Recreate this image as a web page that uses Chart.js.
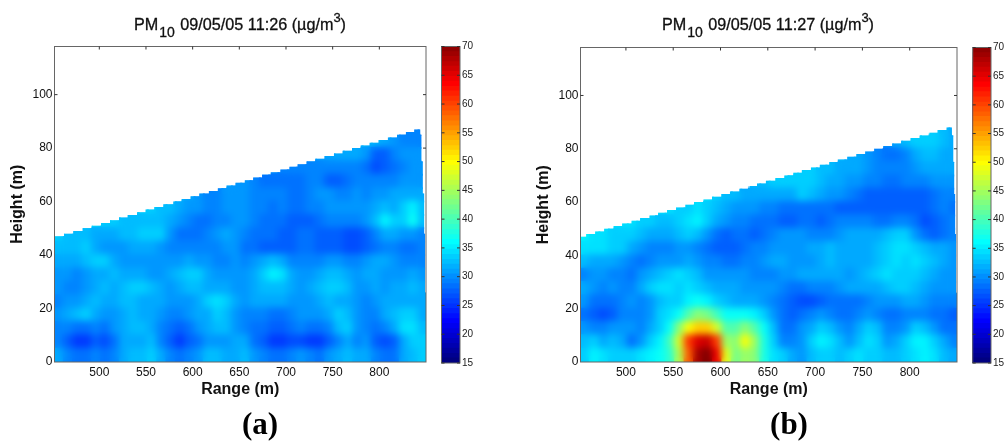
<!DOCTYPE html>
<html>
<head>
<meta charset="utf-8">
<title>PM10</title>
<script src="https://cdn.jsdelivr.net/npm/chart.js@4/dist/chart.umd.min.js"></script>
<style>
  body { margin: 0; background: #fff; }
  #wrap { position: relative; width: 1004px; height: 441px; overflow: hidden; font-family: "Liberation Sans", Arial, sans-serif; }
  canvas { position: absolute; top: 0; }
  .head { position: absolute; top: 15px; font-size: 16.2px; color: #111; white-space: nowrap; transform: translateX(-50%); -webkit-text-stroke: 0.3px #111; }
  .head .sub { position: relative; top: 7px; font-size: 14px; margin: 0 1px 0 1px; }
  .head .sup { position: relative; top: -8px; font-size: 13px; }
  .cap { position: absolute; top: 406px; font: bold 31px "Liberation Serif", serif; color: #000; transform: translateX(-50%); }
</style>
</head>
<body>
<div id="wrap">
  <canvas id="chartA" width="430" height="441" style="left:0"></canvas>
  <canvas id="cbarA" width="500" height="441" style="left:0"></canvas>
  <canvas id="chartB" width="435" height="441" style="left:526px"></canvas>
  <canvas id="cbarB" width="1040" height="441" style="left:0"></canvas>
  <div class="head" style="left:240px">PM<span class="sub">10</span> 09/05/05 11:26 (µg/m<span class="sup">3</span>)</div>
  <div class="head" style="left:768px">PM<span class="sub">10</span> 09/05/05 11:27 (µg/m<span class="sup">3</span>)</div>
  <div class="cap" style="left:260px">(a)</div>
  <div class="cap" style="left:789px">(b)</div>
</div>
<script>
// axes
var rangeTicks = [500, 550, 600, 650, 700, 750, 800];
var heightTicks = [0, 20, 40, 60, 80, 100];
var cbarTicks = [15, 20, 25, 30, 35, 40, 45, 50, 55, 60, 65, 70];

// heat grid: column centres and row edges (m)
var rangeCols = [457, 467, 477, 487, 497, 507, 517, 527, 537, 547, 557, 567, 577, 587, 597, 607, 617, 627, 637, 647,
                 657, 667, 677, 687, 697, 707, 717, 727, 737, 747, 757, 767, 777, 787, 797, 807, 817, 827, 837, 847];
var heightEdges = [0, 5, 10, 15, 20, 25, 30, 35, 40, 45, 50, 55, 60, 65, 70, 75, 80, 85, 90];

// colorbar band tops
var cbarLevels = [15.9, 16.7, 17.6, 18.4, 19.3, 20.2, 21.0, 21.9, 22.7, 23.6, 24.5, 25.3, 26.2, 27.0, 27.9, 28.8,
                  29.6, 30.5, 31.3, 32.2, 33.0, 33.9, 34.8, 35.6, 36.5, 37.3, 38.2, 39.1, 39.9, 40.8, 41.6, 42.5,
                  43.4, 44.2, 45.1, 45.9, 46.8, 47.7, 48.5, 49.4, 50.2, 51.1, 52.0, 52.8, 53.7, 54.5, 55.4, 56.2,
                  57.1, 58.0, 58.8, 59.7, 60.5, 61.4, 62.3, 63.1, 64.0, 64.8, 65.7, 66.6, 67.4, 68.3, 69.1, 70];

// top edge of the scan
var skyEdgesA = [452, 462.3, 472.3, 482.3, 491.9, 501.9, 511.5, 521.1, 530.4, 540.4, 549.6, 558.9, 568.6, 579.3, 588.2, 597.8, 607.1, 617.4, 627, 636.3, 645.9,
                 655.9, 664.8, 674.4, 683.7, 694, 703.7, 712.6, 722.2, 731.5, 741.4, 751.4, 760.7, 770.7, 780, 789.6, 799.2, 809.2, 818.9, 828.5, 837.4, 843.8,
                 845, 846.5, 848, 849, 850];
var skyTopsA = [47, 48, 49, 50, 51, 52, 53, 54, 55, 56, 57, 58, 59, 60, 61, 62, 63, 64, 65, 66,
                67, 68, 69, 70, 71, 72, 73, 74, 75, 76, 77, 78, 79, 80, 81, 82, 83, 84, 85, 86, 87,
                85, 75, 63, 48, 26];
var skyEdgesB = [452, 458, 467.5, 477, 487, 496, 506, 515, 525, 534, 543.5, 553, 563, 572, 582, 591, 601, 610, 620, 629, 638.6,
                 648, 658, 667.5, 677, 686, 695.6, 705, 715, 724, 734, 743.6, 753, 762.6, 772, 781.6, 791, 801, 810.5, 820, 829.5, 839, 844.6,
                 846, 847, 848, 849, 850];
var skyTopsB = [47, 48, 49, 50, 51, 52, 53, 54, 55, 56, 57, 58, 59, 60, 61, 62, 63, 64, 65, 66, 67,
                68, 69, 70, 71, 72, 73, 74, 75, 76, 77, 78, 79, 80, 81, 82, 83, 84, 85, 86, 87, 88,
                85, 75, 63, 48, 26];

var n = null;

// PM10 at 11:26, bottom row first
var pm10A = [
  [31,29,28,28,29,28,29,31,32,32, 33,31,29,28,29,30,32,32,31,31, 32,30,29,28,28,29,30,29,28,30, 31,32,31,31,29,28,28,31,32,33],
  [29,27,25,25,27,26,28,31,31,31, 32,29,27,25,27,28,30,30,30,31, 31,28,27,25,25,26,26,25,25,27, 29,31,29,30,27,26,27,31,33,33],
  [29,29,28,28,29,28,30,31,32,32, 31,29,28,27,28,30,31,32,32,30, 29,28,28,27,27,28,29,28,28,29, 32,33,30,29,28,29,31,34,34,32],
  [30,31,32,33,31,30,30,31,32,31, 31,30,29,29,30,31,31,33,32,30, 29,29,29,28,28,29,30,30,30,31, 33,32,30,29,29,31,32,33,33,31],
  [29,30,30,31,32,31,31,32,32,31, 31,31,30,30,30,31,33,34,33,31, 30,31,31,31,31,30,30,30,31,32, 31,31,30,29,30,31,31,31,31,31],
  [30,29,29,30,31,32,31,32,33,33, 32,31,30,31,32,32,31,31,31,30, 30,31,32,32,32,31,30,31,32,33, 33,32,30,30,31,30,31,31,32,31],
  [30,30,29,30,31,31,32,31,31,31, 30,30,31,32,33,33,31,30,30,30, 30,31,33,35,34,31,30,30,31,32, 32,31,30,31,31,30,30,30,31,30],
  [31,31,31,32,33,33,31,30,30,30, 30,30,30,30,31,30,30,29,29,30, 29,30,31,32,31,29,29,29,29,30, 30,29,29,30,31,31,30,29,29,29],
  [32,32,32,33,31,30,30,30,31,31, 31,30,29,29,29,29,29,29,30,30, 28,28,27,27,27,27,28,28,27,27, 27,26,26,27,28,29,29,28,28,29],
  [33,32,32,32,31,31,31,32,32,33, 33,33,30,28,28,28,29,30,31,30, 29,28,28,28,27,27,28,28,27,27, 27,26,26,27,29,31,31,30,30,29],
  [n,n,n,34,34,33,33,32,32,32, 32,32,31,30,29,28,28,29,29,30, 30,29,28,28,28,27,27,27,28,29, 29,29,29,30,32,35,33,33,36,32],
  [n,n,n,n,n,n,n,n,33,33, 33,32,32,31,30,30,29,29,30,30, 30,29,29,28,29,28,28,29,29,30, 30,30,30,30,31,32,31,33,35,32],
  [n,n,n,n,n,n,n,n,n,n, n,n,n,32,31,30,29,29,30,30, 30,29,29,29,29,28,28,29,30,30, 29,29,30,29,30,30,31,31,31,31],
  [n,n,n,n,n,n,n,n,n,n, n,n,n,n,n,n,n,n,31,30, 30,29,28,28,28,28,28,29,29,27, 27,28,29,29,29,29,29,30,30,30],
  [n,n,n,n,n,n,n,n,n,n, n,n,n,n,n,n,n,n,n,n, n,n,31,30,29,29,29,29,29,29, 29,29,29,28,26,27,28,29,30,30],
  [n,n,n,n,n,n,n,n,n,n, n,n,n,n,n,n,n,n,n,n, n,n,n,n,n,n,n,31,31,31, 31,31,31,30,27,27,29,30,30,30],
  [n,n,n,n,n,n,n,n,n,n, n,n,n,n,n,n,n,n,n,n, n,n,n,n,n,n,n,n,n,n, n,n,31,32,32,31,30,29,29,29],
  [n,n,n,n,n,n,n,n,n,n, n,n,n,n,n,n,n,n,n,n, n,n,n,n,n,n,n,n,n,n, n,n,n,n,n,n,n,29,29,29]
];

// PM10 at 11:27, bottom row first
var pm10B = [
  [33,35,34,33,33,33,34,35,36,38, 45,58,68,70,64,48,42,44,43,37, 34,33,31,30,32,33,33,32,33,34, 33,33,32,32,33,34,35,34,32,31],
  [32,33,31,32,31,28,30,33,35,39, 47,60,65,66,60,44,43,49,44,37, 33,29,29,30,33,35,34,32,30,32, 34,33,30,31,33,35,35,33,31,29],
  [30,29,29,30,30,30,29,31,33,36, 43,49,52,52,47,40,40,43,40,36, 32,28,28,30,31,33,32,30,29,31, 33,32,29,29,30,33,32,30,28,28],
  [28,27,26,27,29,29,29,30,33,34, 36,40,43,42,39,36,36,36,35,33, 30,28,27,28,29,30,29,28,28,29, 30,29,28,28,29,29,29,28,28,27],
  [30,28,28,28,29,30,29,30,32,33, 33,35,36,35,33,32,31,31,31,30, 29,28,27,26,26,27,28,28,28,28, 29,30,30,30,31,31,30,29,29,29],
  [31,30,29,30,29,29,31,33,34,34, 33,34,33,32,31,31,31,30,30,30, 30,29,28,28,29,29,29,30,31,31, 31,31,32,33,33,32,31,30,30,30],
  [29,30,30,29,29,28,30,31,32,33, 34,33,32,30,30,30,30,30,29,29, 29,30,30,31,31,31,31,31,30,31, 32,33,34,33,33,33,32,31,30,30],
  [32,31,31,31,30,29,28,29,30,30, 30,31,30,29,29,28,28,29,29,30, 31,31,30,30,30,31,32,31,31,31, 31,32,33,34,33,34,33,32,31,30],
  [34,34,34,33,33,31,30,29,29,29, 30,30,29,28,27,27,27,28,29,29, 30,30,30,30,31,31,32,31,31,31, 31,32,33,34,34,33,32,31,31,30],
  [35,34,34,33,33,33,32,31,31,31, 32,33,32,30,28,27,28,28,27,28, 29,30,30,30,29,29,29,30,31,31, 31,31,32,33,33,30,28,27,28,29],
  [n,n,n,34,34,34,33,33,32,32, 33,34,35,33,31,30,29,29,28,28, 28,27,27,28,28,27,28,29,29,29, 29,28,28,29,29,28,26,27,28,29],
  [n,n,n,n,n,n,n,n,34,34, 33,33,34,33,32,31,30,30,30,29, 29,28,28,28,28,28,28,27,27,27, 27,27,27,27,27,27,27,28,29,28],
  [n,n,n,n,n,n,n,n,n,n, n,n,n,34,33,32,32,31,31,31, 31,31,31,33,32,31,30,30,29,28, 27,27,27,27,27,27,27,28,29,29],
  [n,n,n,n,n,n,n,n,n,n, n,n,n,n,n,n,n,n,32,32, 33,33,33,33,33,32,31,31,30,30, 29,29,28,28,29,29,29,30,30,30],
  [n,n,n,n,n,n,n,n,n,n, n,n,n,n,n,n,n,n,n,n, n,n,33,33,33,32,32,31,31,31, 30,29,29,29,29,30,31,31,31,31],
  [n,n,n,n,n,n,n,n,n,n, n,n,n,n,n,n,n,n,n,n, n,n,n,n,n,n,n,32,31,31, 30,29,28,28,29,31,32,32,31,31],
  [n,n,n,n,n,n,n,n,n,n, n,n,n,n,n,n,n,n,n,n, n,n,n,n,n,n,n,n,n,n, n,n,30,31,32,33,33,33,32,31],
  [n,n,n,n,n,n,n,n,n,n, n,n,n,n,n,n,n,n,n,n, n,n,n,n,n,n,n,n,n,n, n,n,n,n,n,n,n,33,32,31]
];

// matlab jet colormap between 15 and 70
function jet(v) {
  var t = Math.min(1, Math.max(0, (v - 15) / 55));
  function part(c) { return Math.round(255 * Math.min(1, Math.max(0, 1.5 - Math.abs(4 * t - c)))); }
  return 'rgb(' + part(3) + ',' + part(2) + ',' + part(1) + ')';
}

// one floating-bar dataset per height row
function heatDatasets(grid) {
  return grid.map(function (row, r) {
    var points = [], colors = [];
    row.forEach(function (v, c) {
      if (v === null) return;
      points.push({ x: rangeCols[c], y: [heightEdges[r], heightEdges[r + 1]] });
      colors.push(jet(v));
    });
    return { data: points, backgroundColor: colors, borderWidth: 0, inflateAmount: 1, barPercentage: 1, categoryPercentage: 1, grouped: false };
  });
}

// clips the bars to the scan outline, then softens them like matlab's interpolated shading
var scanShading = {
  id: 'scanShading',
  beforeDatasetsDraw: function (chart, args, opts) {
    var ctx = chart.ctx, x = chart.scales.x, y = chart.scales.y;
    ctx.save();
    ctx.beginPath();
    ctx.moveTo(x.getPixelForValue(opts.edges[0]), y.getPixelForValue(0));
    opts.tops.forEach(function (top, i) {
      ctx.lineTo(x.getPixelForValue(opts.edges[i]), y.getPixelForValue(top));
      ctx.lineTo(x.getPixelForValue(opts.edges[i + 1]), y.getPixelForValue(top));
    });
    ctx.lineTo(x.getPixelForValue(opts.edges[opts.edges.length - 1]), y.getPixelForValue(0));
    ctx.closePath();
    ctx.clip();
  },
  afterDatasetsDraw: function (chart, args, opts) {
    var ctx = chart.ctx, a = chart.chartArea;
    var off = document.createElement('canvas');
    off.width = chart.canvas.width;
    off.height = chart.canvas.height;
    var octx = off.getContext('2d');
    octx.beginPath();
    octx.rect(a.left, a.top, a.right - a.left, a.bottom - a.top);
    octx.clip();
    octx.drawImage(chart.canvas, 0, 0);
    ctx.filter = 'blur(' + opts.blur + 'px)';
    ctx.drawImage(off, 0, 0);
    ctx.filter = 'none';
    ctx.restore();
  }
};

// matlab style box with short inward ticks
var boxTicks = {
  id: 'boxTicks',
  afterDraw: function (chart, args, opts) {
    var ctx = chart.ctx, a = chart.chartArea;
    ctx.save();
    ctx.strokeStyle = '#666';
    ctx.lineWidth = 1;
    ctx.strokeRect(a.left, a.top, a.right - a.left, a.bottom - a.top);
    ctx.strokeStyle = '#333';
    ctx.beginPath();
    (opts.top || []).forEach(function (v) {
      var px = chart.scales.x.getPixelForValue(v);
      ctx.moveTo(px, a.top);
      ctx.lineTo(px, a.top + 3);
    });
    (opts.left || []).forEach(function (v) {
      var py = chart.scales.y.getPixelForValue(v);
      ctx.moveTo(a.left, py);
      ctx.lineTo(a.left + 3, py);
    });
    (opts.right || []).forEach(function (v) {
      var py = chart.scales.y.getPixelForValue(v);
      ctx.moveTo(a.right, py);
      ctx.lineTo(a.right - 3, py);
    });
    ctx.stroke();
    ctx.restore();
  }
};

function tickFont(size) {
  return { family: '"Liberation Sans", Arial, sans-serif', size: size };
}

function titleFont() {
  return { family: '"Liberation Sans", Arial, sans-serif', size: 16, weight: 'bold' };
}

function setTicks(values) {
  return function (scale) {
    scale.ticks = values.map(function (v) { return { value: v }; });
  };
}

function heatChart(id, grid, edges, tops, topPad) {
  return new Chart(document.getElementById(id), {
    type: 'bar',
    data: { datasets: heatDatasets(grid) },
    plugins: [scanShading, boxTicks],
    options: {
      responsive: false,
      animation: false,
      events: [],
      layout: { padding: { top: topPad, right: 4, bottom: 39, left: 0 } },
      plugins: {
        legend: { display: false },
        tooltip: { enabled: false },
        scanShading: { edges: edges, tops: tops, blur: 3.5 },
        boxTicks: { top: rangeTicks, left: [100], right: [100, 80] }
      },
      scales: {
        x: {
          type: 'linear', min: 452, max: 850, offset: false,
          grid: { display: false, offset: false, drawTicks: false },
          border: { display: false },
          afterBuildTicks: setTicks(rangeTicks),
          afterFit: function (s) { s.height = 40; },
          ticks: { font: tickFont(12), color: '#111', padding: 3, maxRotation: 0, autoSkip: false, callback: function (v) { return String(v); } },
          title: { display: true, text: 'Range (m)', font: titleFont(), color: '#111', padding: { top: 0, bottom: 3 } }
        },
        y: {
          type: 'linear', min: 0, max: 118,
          grid: { display: false, drawTicks: false },
          border: { display: false },
          afterBuildTicks: setTicks(heightTicks),
          afterFit: function (s) { s.width = 54.5; },
          ticks: { font: tickFont(12), color: '#111', padding: 2, autoSkip: false, callback: function (v) { return String(v); } },
          title: { display: true, text: 'Height (m)', font: titleFont(), color: '#111', padding: { top: 7.5, bottom: 0 } }
        }
      }
    }
  });
}

// colorbar: overlapping floating bars, lowest band on top
function cbarChart(id, left, right, top) {
  var datasets = cbarLevels.map(function (level, i) {
    return { data: [[15, level]], backgroundColor: jet(i === 0 ? 15 : cbarLevels[i - 1]), borderWidth: 0, barPercentage: 1, categoryPercentage: 1, grouped: false };
  });
  return new Chart(document.getElementById(id), {
    type: 'bar',
    data: { labels: ['PM10'], datasets: datasets },
    plugins: [boxTicks],
    options: {
      responsive: false,
      animation: false,
      events: [],
      layout: { padding: { top: top, left: left, right: right, bottom: 78 } },
      plugins: {
        legend: { display: false },
        tooltip: { enabled: false },
        boxTicks: { left: cbarTicks, right: cbarTicks }
      },
      scales: {
        x: { display: false },
        y: {
          position: 'right', type: 'linear', min: 15, max: 70,
          grid: { display: false, drawTicks: false },
          border: { display: false },
          afterBuildTicks: setTicks(cbarTicks),
          afterFit: function (s) { s.width = 24; },
          ticks: { font: tickFont(10), color: '#222', padding: 2, autoSkip: false, callback: function (v) { return String(v); } }
        }
      }
    }
  });
}

heatChart('chartA', pm10A, skyEdgesA, skyTopsA, 46.5);
heatChart('chartB', pm10B, skyEdgesB, skyTopsB, 47.5);
cbarChart('cbarA', 441.5, 16, 46.5);
cbarChart('cbarB', 972.7, 25, 47.5);
</script>
</body>
</html>
